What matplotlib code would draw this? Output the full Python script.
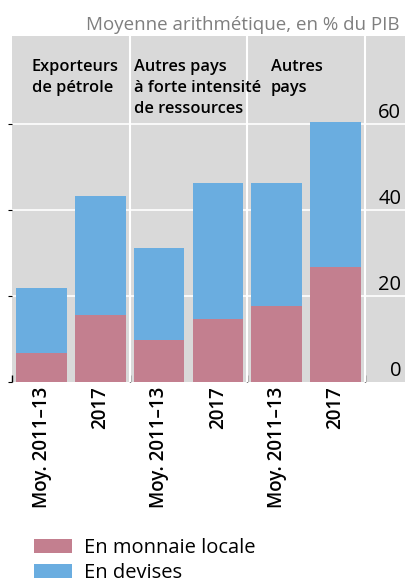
import numpy as np
import matplotlib.pyplot as plt

plt.rcParams['font.family'] = ['Open Sans', 'DejaVu Sans']

# data (% of GDP)
periods = ["Moy. 2011\u201313", "2017"] * 3
groups = ["Exporteurs\nde pétrole", "Autres pays\nà forte intensité\nde ressources", "Autres\npays"]
local_cur = [6.7, 15.6, 9.8, 14.7, 17.7, 26.8]
foreign_cur = [15.2, 27.7, 21.4, 31.6, 28.6, 33.7]
yticks = [0, 20, 40, 60]

pink = "#C37F8F"
blue = "#6AADE0"
grey = "#D9D9D9"

fig = plt.figure(figsize=(4.06, 5.87), dpi=100)
ax = fig.add_axes([0.03, 0.349, 0.97, 0.5897])
ax.set_facecolor(grey)

x = np.arange(len(periods))
w = 0.86
ax.bar(x, local_cur, w, color=pink, zorder=3, label="En monnaie locale")
ax.bar(x, foreign_cur, w, bottom=local_cur, color=blue, zorder=3, label="En devises")

ax.set_xlim(-0.5, 6.2)
ax.set_ylim(0, 80.5)

# white grid + group separators
for v in yticks[1:]:
    ax.axhline(v, color="white", lw=1.2, zorder=1)
for s in [1.5, 3.5, 5.5]:
    ax.axvline(s, color="white", lw=1.5, zorder=2)

for side in ax.spines.values():
    side.set_visible(False)

ax.set_yticks(yticks)
ax.set_yticklabels([])
ax.tick_params(axis="y", length=3, color="black", width=0.8)
for v in yticks:
    ax.text(6.12, v + 0.3, str(v), ha="right", va="bottom", fontsize=14.5)

ax.set_xticks(x)
ax.set_xticklabels(periods, rotation=90, fontsize=13.5, fontweight="semibold", va="top")
ax.tick_params(axis="x", length=0, pad=3)
ax.set_xticks([-0.5, 1.5, 3.5, 5.5], minor=True)
ax.tick_params(axis="x", which="minor", direction="in", length=5, color="black", width=1)

gx = [-0.17, 1.58, 3.9]
for g, gxx in zip(groups, gx):
    ax.text(gxx, 75.2, g, ha="left", va="top", fontsize=11.8, fontweight="semibold",
            linespacing=1.42)

fig.text(0.985, 0.958, "Moyenne arithmétique, en % du PIB", ha="right", va="center",
         fontsize=13.5, color="#7f7f7f")

h, l = ax.get_legend_handles_labels()
fig.legend(h, l, loc="lower left", bbox_to_anchor=(0.04, -0.024), frameon=False,
           fontsize=14.5, handlelength=1.85, handleheight=0.65, labelspacing=0.25,
           handletextpad=0.6)

fig.savefig("out.png", dpi=100)
